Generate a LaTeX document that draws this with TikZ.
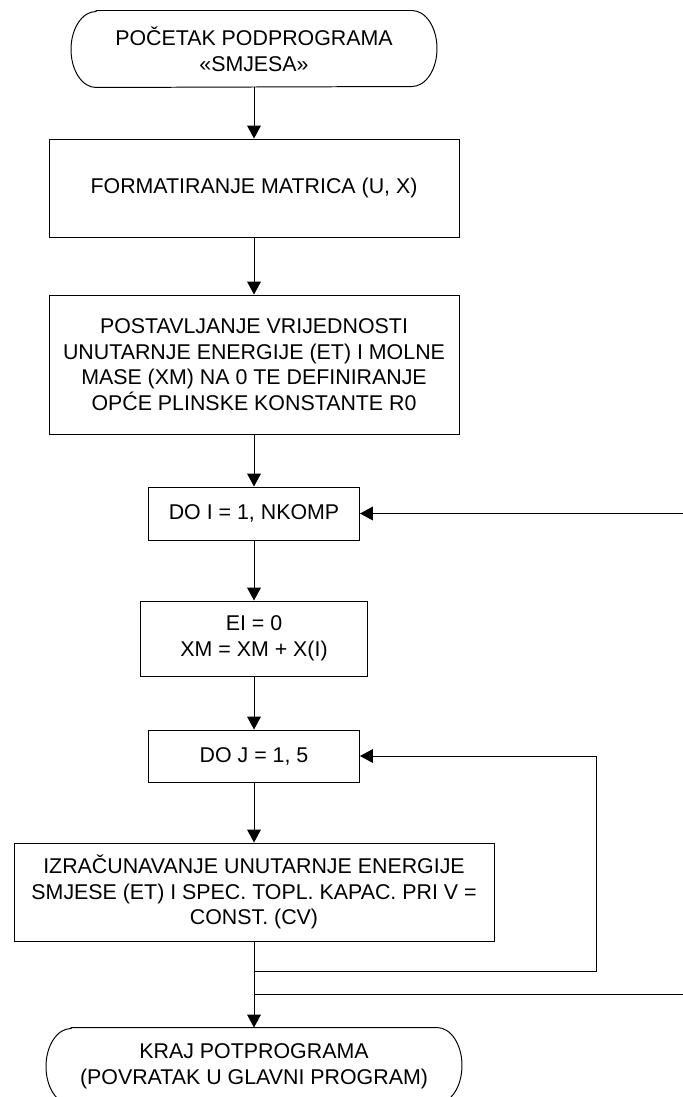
\documentclass[tikz,border=0pt]{standalone}
\usepackage{fontspec}
\setmainfont{Liberation Sans}
\usetikzlibrary{arrows.meta, positioning}
\tikzset{
  every picture/.style={line width=0.7pt},
  every node/.style={font=\fontsize{15.2pt}{18.2pt}\selectfont},
  box/.style={draw, align=center, inner sep=4pt},
  term/.style={align=center, inner sep=2pt, minimum height=1.9cm},
  arrow/.style={-{Triangle[length=3.2mm, width=3.4mm]}},
}

\begin{document}
\begin{tikzpicture}
  \useasboundingbox (0,0) rectangle (17.05,-27.425);
  % main chain
  \node[term, minimum width=7.875cm] (start) at (6.35,-1.225) {POČETAK PODPROGRAMA\\«SMJESA»};
  \node[box, minimum width=10.25cm, minimum height=2.45cm] (fmt) at (6.35,-4.7) {FORMATIRANJE MATRICA (U, X)};
  \node[box, minimum width=10.25cm, minimum height=3.475cm] (init) at (6.35,-9.1125)
    {POSTAVLJANJE VRIJEDNOSTI\\UNUTARNJE ENERGIJE (ET) I MOLNE\\MASE (XM) NA 0 TE DEFINIRANJE\\OPĆE PLINSKE KONSTANTE R0};
  \node[box, minimum width=5.275cm, minimum height=1.325cm] (doi) at (6.35,-12.8375) {DO I = 1, NKOMP};
  \node[box, minimum width=5.675cm, minimum height=1.875cm] (ei) at (6.35,-15.9625) {EI = 0\\XM = XM + X(I)};
  \node[box, minimum width=5.275cm, minimum height=1.3cm] (doj) at (6.35,-18.9) {DO J = 1, 5};
  \node[box, minimum width=12cm, minimum height=2.45cm] (comp) at (6.35,-22.3)
    {IZRAČUNAVANJE UNUTARNJE ENERGIJE\\SMJESE (ET) I SPEC. TOPL. KAPAC. PRI V =\\CONST. (CV)};
  \node[term, minimum width=9.125cm] (stop) at (6.35,-26.65) {KRAJ POTPROGRAMA\\(POVRATAK U GLAVNI PROGRAM)};
  % terminator outlines
  \foreach \t in {start, stop} {
    \draw (\t.north west) -- (\t.north east)
      arc[start angle=90, end angle=-90, x radius=0.625, y radius=0.95]
      -- (\t.south west)
      arc[start angle=270, end angle=90, x radius=0.625, y radius=0.95] -- cycle;
  }
  \foreach \a/\b in {start/fmt, fmt/init, init/doi, doi/ei, ei/doj, doj/comp, comp/stop} {
    \draw[arrow] (\a) -- (\b);
  }
  % loop returns
  \coordinate (jret) at (6.35,-24.275);
  \coordinate (iret) at (6.35,-24.85);
  \coordinate (jright) at (14.9,0);
  \coordinate (iright) at (17.3,0);
  \draw[arrow] (jret) -| (jright |- doj.east) -- (doj.east);
  \draw[arrow] (iret) -| (iright |- doi.east) -- (doi.east);
\end{tikzpicture}
\end{document}
